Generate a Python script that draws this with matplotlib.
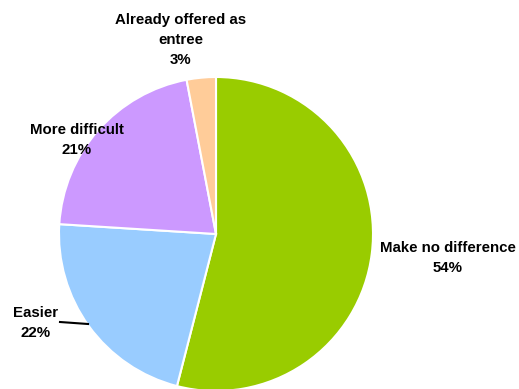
import matplotlib.pyplot as plt

labels = ["Make no difference", "Easier", "More difficult", "Already offered as\nentree"]
shares = [54, 22, 21, 3]
colors = ["#99CC00", "#99CCFF", "#CC99FF", "#FFCC99"]

# label anchors in pixel space (x, y from top)
label_pos = [(448, 258), (36, 323), (77, 140), (181, 40)]

W, H = 519, 389
fig = plt.figure(figsize=(W / 100, H / 100), dpi=100)
ax = fig.add_axes([0, 0, 1, 1])

ax.pie(shares, colors=colors, startangle=90, counterclock=False,
       center=(216, H - 234), radius=157,
       wedgeprops=dict(edgecolor="white", linewidth=1.5))

# pie() resets the limits, so fix them afterwards
ax.set_xlim(0, W)
ax.set_ylim(0, H)
ax.set_aspect("equal")
ax.axis("off")

for lab, val, (x, y) in zip(labels, shares, label_pos):
    ax.text(x, H - y, f"{lab}\n{val}%", ha="center", va="center",
            fontsize=10.8, fontweight="bold", family="Liberation Sans",
            linespacing=1.55)

# leader line for the "Easier" label
ax.plot([60, 88], [H - 322, H - 324], color="black", lw=1.5)

fig.savefig("out.png", dpi=100)
